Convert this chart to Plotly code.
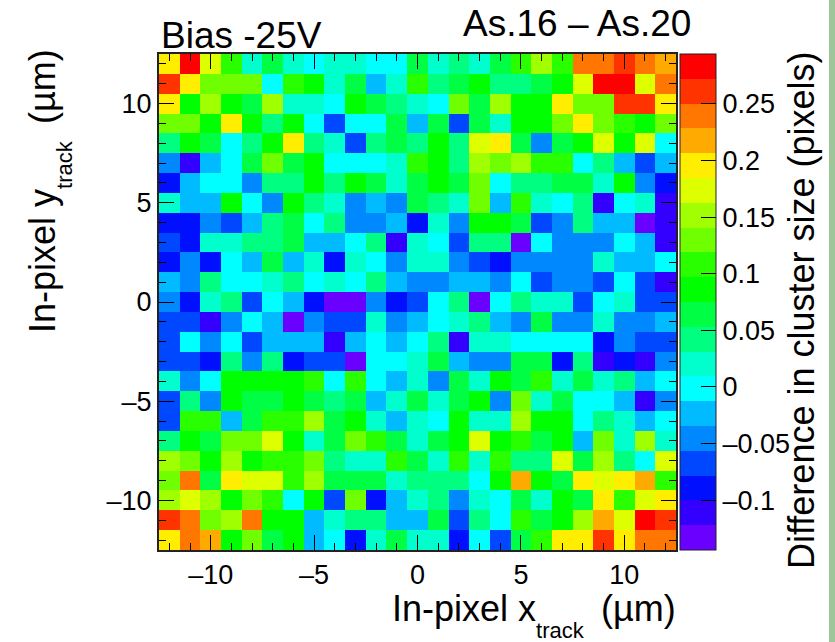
import plotly.graph_objects as go

# Bin centres of the in-pixel map (micrometres)
x_bins = list(range(-12, 13))
y_bins = list(range(12, -13, -1))

# Difference in cluster size, in 0.01 pixels, rows from top (y=12) to bottom (y=-12)
diff_hundredths = [
    [20,28,17,11,2,6,2,0,2,2,0,0,6,2,4,2,6,11,15,11,24,24,26,24,22],
    [26,20,13,13,13,0,11,9,2,6,-2,2,11,4,6,9,4,4,6,9,17,28,28,17,24],
    [20,9,15,9,6,15,2,2,0,9,6,4,2,0,13,6,15,9,9,20,13,13,26,26,20],
    [13,13,9,20,9,4,9,0,-7,0,0,6,-2,6,-7,6,2,9,9,13,20,13,11,9,13],
    [4,9,6,0,4,9,20,4,2,-7,4,6,4,9,4,17,20,6,-5,6,9,17,9,17,0],
    [-5,-11,-2,0,6,13,6,9,0,0,0,2,11,9,4,15,13,15,11,11,0,4,-2,-7,-2],
    [-9,-2,0,0,-5,4,4,9,4,9,6,2,6,9,6,13,0,4,4,6,6,2,9,-5,-9],
    [2,-2,-2,9,0,-5,9,4,2,-5,-2,-5,6,4,2,13,-2,11,2,0,4,-11,0,2,-11],
    [-9,-9,-5,-7,-2,4,6,0,4,-5,-5,-2,-9,2,-5,9,9,6,-7,-5,4,-2,-2,-13,-11],
    [-7,-9,2,2,4,4,6,-2,-2,0,4,-11,2,0,-7,4,4,-13,0,-5,-5,-5,0,-2,-11],
    [-9,-5,-9,0,-2,6,-2,2,-9,2,0,-5,2,2,-5,-7,-9,-5,-5,-5,-5,2,-2,-2,0],
    [-2,-5,4,0,0,2,4,0,2,0,4,-2,-5,-5,-2,-2,-5,0,-7,-5,-5,-7,0,-7,-11],
    [-5,-9,2,4,-7,0,-2,-9,-13,-13,-5,-9,-7,0,4,-13,0,4,2,2,-7,0,2,-7,-7],
    [-7,-7,-11,-5,0,-2,-13,-5,-7,-7,2,-5,-2,0,2,4,-2,-5,6,-5,-5,2,-5,-5,-2],
    [-7,0,-5,0,-7,-2,-2,-2,-11,-2,0,-2,0,4,-11,2,2,0,0,0,0,-9,-5,-7,-7],
    [-7,-7,-9,4,-5,4,-9,-7,-7,-13,0,0,2,6,-2,-5,-5,6,6,-9,4,-11,-9,-11,-5],
    [2,-5,0,9,9,9,9,11,0,11,0,-2,2,-5,6,2,9,6,11,2,6,2,4,-2,0],
    [-7,4,-5,9,6,6,9,6,4,6,-2,2,6,2,6,9,-5,13,2,6,0,0,-2,-11,-5],
    [-7,11,11,-2,6,11,11,15,6,9,2,-2,2,0,9,2,2,15,9,9,0,4,2,-2,0],
    [4,9,6,13,13,17,9,2,6,13,11,6,2,6,9,17,9,11,6,9,-2,13,2,15,2],
    [15,13,9,15,9,11,11,13,4,2,2,11,6,2,11,2,11,4,4,17,6,15,4,0,17],
    [13,24,6,20,17,17,11,15,6,6,6,2,4,4,4,0,9,22,9,6,20,17,20,22,11],
    [15,17,15,9,13,11,0,9,-7,13,-9,-2,2,4,-5,2,0,6,2,9,6,20,11,17,20],
    [26,24,13,15,24,9,9,-2,2,4,4,-2,-2,6,-7,4,0,11,6,9,15,22,17,28,26],
    [20,24,22,9,13,6,9,-2,0,-9,2,6,2,2,-9,0,-7,6,11,20,20,26,20,24,24],
]
z_values = [[v / 100 for v in row] for row in diff_hundredths]

z_min, z_max = -0.144, 0.294
band_colors = ["#6a00ff", "#3300ff", "#0010ff", "#0048ff", "#0088ff", "#00bbff", "#00ffff",
               "#00ffcc", "#00ff80", "#00ff44", "#00ff00", "#2aff00", "#70ff00", "#a0ff00",
               "#ddff00", "#ffee00", "#ffaa00", "#ff7700", "#ff3300", "#ff0000"]
colorscale = []
for i, c in enumerate(band_colors):
    colorscale.append([i / len(band_colors), c])
    colorscale.append([(i + 1) / len(band_colors), c])

cb_ticks = [-0.1, -0.05, 0, 0.05, 0.1, 0.15, 0.2, 0.25]
cb_labels = ["\u20130.1", "\u20130.05", "0", "0.05", "0.1", "0.15", "0.2", "0.25"]
x_ticks = [-10, -5, 0, 5, 10]
x_labels = ["\u201310", "\u20135", "0", "5", "10"]

FONT = "Liberation Sans, Arial, sans-serif"
W, H = 835, 642
L, R, T, B = 159, 676, 54, 550
PW, PH = R - L, B - T

fig = go.Figure(go.Heatmap(
    x=x_bins, y=y_bins, z=z_values, zmin=z_min, zmax=z_max,
    colorscale=colorscale, xgap=0, ygap=0,
    colorbar=dict(
        thickness=36, thicknessmode="pixels", len=1, lenmode="fraction",
        x=(680 - L) / PW, xanchor="left", y=0, yanchor="bottom", ypad=0, xpad=0,
        outlinecolor="#222222", outlinewidth=1,
        tickmode="array", tickvals=cb_ticks, ticktext=cb_labels,
        ticks="inside", ticklen=15, tickwidth=1, tickcolor="black",
        tickfont=dict(family=FONT, size=27, color="black"),
    ),
))

axis_common = dict(
    tickmode="array", tickvals=x_ticks, ticktext=x_labels,
    ticks="inside", ticklen=15, tickwidth=1, tickcolor="black",
    tickfont=dict(family=FONT, size=27, color="black"),
    showgrid=False, zeroline=False, showline=True, linecolor="#222222", linewidth=2,
    mirror="ticks",
    minor=dict(tickmode="linear", tick0=0, dtick=1, ticks="inside", ticklen=7, tickwidth=1,
               tickcolor="black", showgrid=False),
)
fig.update_xaxes(range=[-12.5, 12.5], **axis_common)
fig.update_yaxes(range=[-12.5, 12.5], **axis_common)

def text(x, y, s, size, xa="left", ya="middle", angle=0):
    fig.add_annotation(x=x, y=y, xref="paper", yref="paper", text=s, showarrow=False,
                       xanchor=xa, yanchor=ya, textangle=angle, borderpad=0, borderwidth=0,
                       font=dict(family=FONT, size=size, color="black"))

px = lambda v: (v - L) / PW
py = lambda v: (B - v) / PH
SUB = '<sub><sub><sub><span style="font-size:22px">track</span></sub></sub></sub>'
text(px(161), py(36), "Bias -25V", 37)
text(px(463), py(24), "As.16 \u2013 As.20", 37)
text(px(676), py(615), "In-pixel x" + SUB + "\u00a0\u2009(\u00b5m)", 36, xa="right")
text(px(49), py(191), "In-pixel y" + SUB + "\u00a0\u2009(\u00b5m)", 36, xa="center", angle=-90)
text(px(801), py(310), "Difference in cluster size (pixels)", 36, xa="center", angle=-90)

fig.add_shape(type="rect", xref="paper", yref="paper", x0=px(829), x1=px(835), y0=py(642), y1=py(0),
              fillcolor="#9dc79a", line_width=0, layer="below")

fig.update_layout(
    width=W, height=H, autosize=False, paper_bgcolor="white", plot_bgcolor="white",
    margin=dict(l=L, r=W - R, t=T, b=H - B, pad=0),
    font=dict(family=FONT, color="black"),
)
fig.write_html("out.html", config=dict(displayModeBar=False),
               post_script="document.body.style.margin='0';document.body.style.overflow='hidden';")
